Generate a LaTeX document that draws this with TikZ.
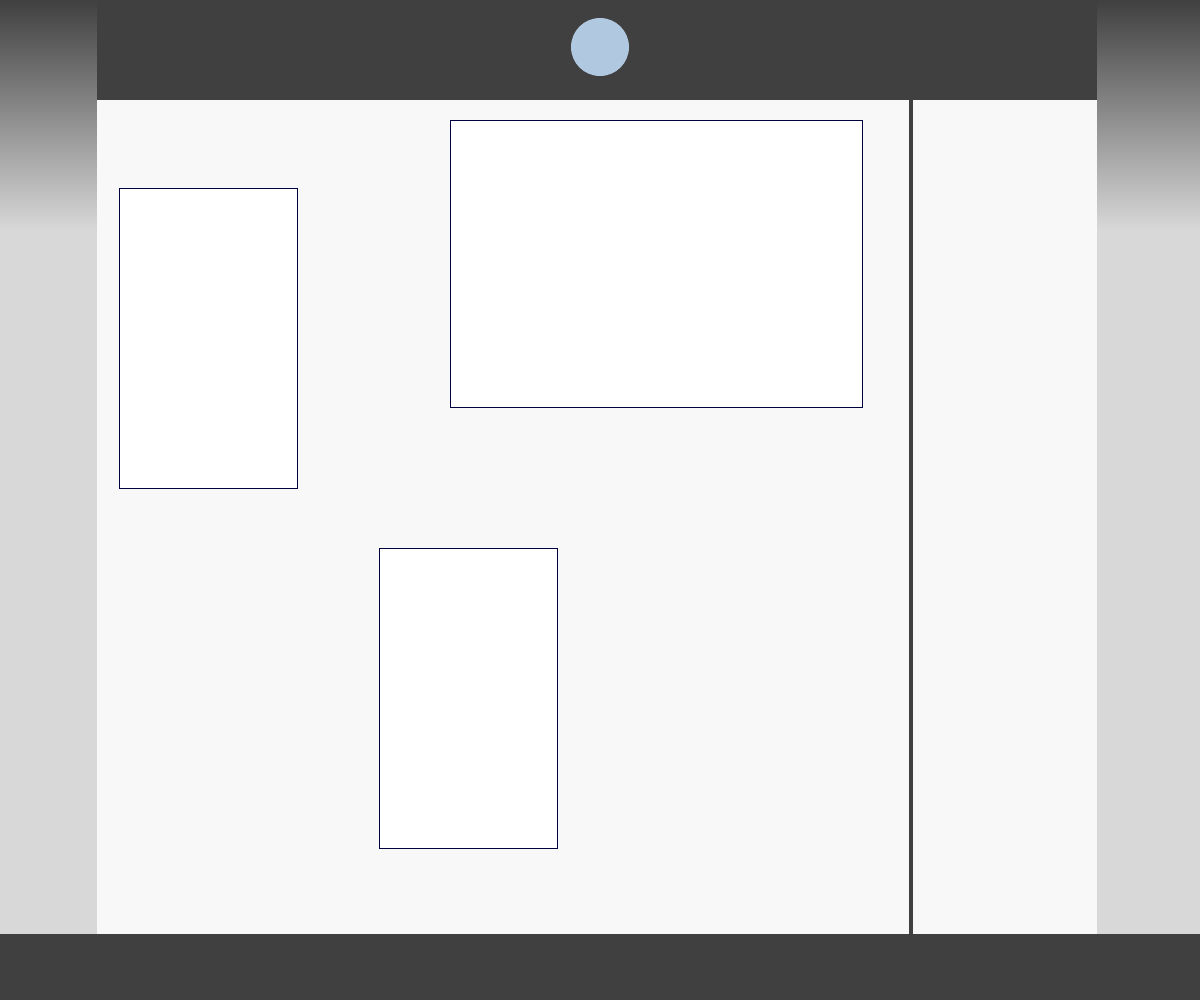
\documentclass[tikz,border=0pt]{standalone}
\usetikzlibrary{positioning}

\definecolor{bardark}{HTML}{404040}
\definecolor{sidegrey}{HTML}{D8D8D8}
\definecolor{pagegrey}{HTML}{F8F8F8}
\definecolor{logoblue}{HTML}{B0C8E0}
\definecolor{framenavy}{HTML}{000040}

\tikzset{
  panel/.style={draw=framenavy, fill=white, line width=1.4pt, anchor=north west, inner sep=0pt},
  logo/.style={circle, fill=logoblue, minimum size=2.9cm, inner sep=0pt}
}

\begin{document}
\begin{tikzpicture}[x=0.05cm, y=-0.05cm]
			      \useasboundingbox (0,0) rectangle (1200,1000);
			      % sides
			      \shade[top color=bardark, bottom color=sidegrey] (0,0) rectangle (97,230);
			      \shade[top color=bardark, bottom color=sidegrey] (1097,0) rectangle (1200,230);
			      \fill[sidegrey] (0,230) rectangle (97,934);
			      \fill[sidegrey] (1097,230) rectangle (1200,934);
			      % page
			      \fill[pagegrey] (97,100) rectangle (1097,934);
			      \fill[bardark] (97,0) rectangle (1097,100);
			      \fill[bardark] (0,934) rectangle (1200,1000);
			      \fill[bardark] (909,100) rectangle (913,934);
			      % content
			      \node (logo) [logo] at (600,47) {};
			      \node (left) [panel, minimum width=8.9cm, minimum height=15cm] at (119,188) {};
			      \node (top) [panel, minimum width=20.6cm, minimum height=14.35cm] at (450,120) {};
			      \node (bottom) [panel, minimum width=8.9cm, minimum height=15cm] at (379,548) {};
		      \end{tikzpicture}
\end{document}
